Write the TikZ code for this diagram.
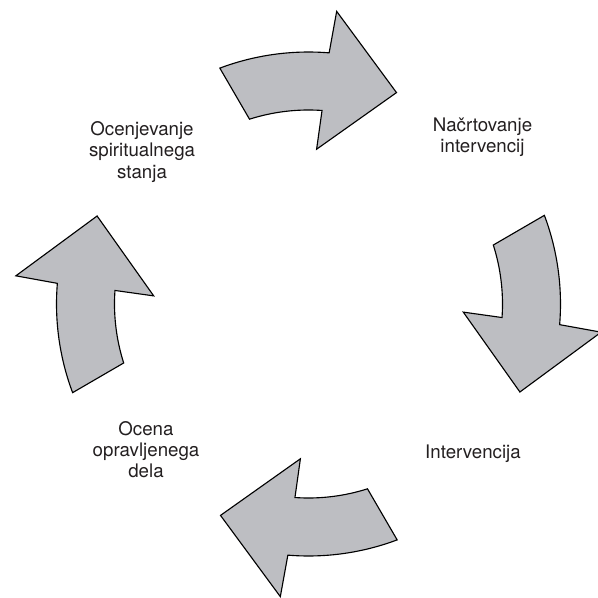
\documentclass[tikz,border=0pt]{standalone}
\usepackage{fontspec}
\setmainfont{TeX Gyre Heros}
\usepackage{xcolor}
\definecolor{arrowgray}{RGB}{189,190,194}
\definecolor{labelgray}{RGB}{35,31,32}
\usepackage{tikz}

\begin{document}
\begin{tikzpicture}[x=0.025cm, y=0.025cm,
  cyclearrow/.style={fill=arrowgray, draw=black, line width=0.8pt, line join=miter},
  steplabel/.style={align=center, text=labelgray, font=\fontsize{13.3}{15}\selectfont, inner sep=0pt}]

\useasboundingbox (-308.5,-294) rectangle (289.5,304);

\draw [cyclearrow] (110.6:252) arc[start angle=110.6, end angle=85.3, radius=252] -- (84.5:294) -- (67.4:229) -- (87:155) -- (86:194) arc[start angle=86, end angle=107.7, radius=194] -- cycle;
\draw [cyclearrow, rotate=-90] (110.6:252) arc[start angle=110.6, end angle=85.3, radius=252] -- (84.5:294) -- (67.4:229) -- (87:155) -- (86:194) arc[start angle=86, end angle=107.7, radius=194] -- cycle;
\draw [cyclearrow, rotate=-180] (110.6:252) arc[start angle=110.6, end angle=85.3, radius=252] -- (84.5:294) -- (67.4:229) -- (87:155) -- (86:194) arc[start angle=86, end angle=107.7, radius=194] -- cycle;
\draw [cyclearrow, rotate=-270] (110.6:252) arc[start angle=110.6, end angle=85.3, radius=252] -- (84.5:294) -- (67.4:229) -- (87:155) -- (86:194) arc[start angle=86, end angle=107.7, radius=194] -- cycle;

\node [steplabel] (ocenjevanje) at (-166.5,152) {Ocenjevanje\\spiritualnega\\stanja};
\node [steplabel] (nacrtovanje) at (174,166.5) {Načrtovanje\\intervencij};
\node [steplabel] (intervencija) at (164.5,-149.5) {Intervencija};
\node [steplabel] (ocena) at (-162.5,-145.3) {Ocena\\opravljenega\\dela};

\end{tikzpicture}
\end{document}
